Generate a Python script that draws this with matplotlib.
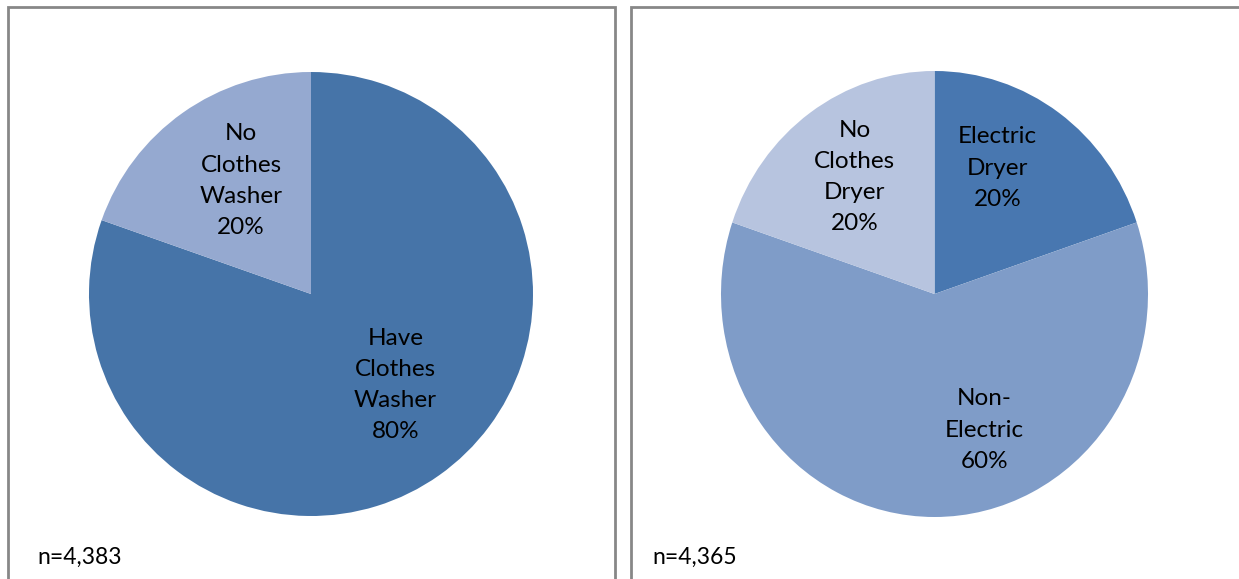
import matplotlib
matplotlib.use("Agg")
import matplotlib.pyplot as plt
from matplotlib.patches import Rectangle

# ---- data ----
washer_labels = ["Have\nClothes\nWasher", "No\nClothes\nWasher"]
washer_values = [80.4, 19.6]
washer_n = "n=4,383"

dryer_labels = ["Electric\nDryer", "Non-\nElectric", "No\nClothes\nDryer"]
dryer_values = [19.8, 60.4, 19.8]
dryer_n = "n=4,365"

# ---- style ----
washer_colors = ["#4674A8", "#95A9D0"]
dryer_colors = ["#4877B0", "#7F9CC8", "#B7C4DF"]
washer_label_pos = [(0.38, -0.41), (-0.315, 0.51)]
dryer_label_pos = [(0.296, 0.565), (0.235, -0.61), (-0.375, 0.525)]
FONT = "Lato"
W, H = 1239, 579

fig = plt.figure(figsize=(W / 100, H / 100), dpi=100)
fig.patch.set_facecolor("white")


def px_axes(x0, y0, w, h):
    return fig.add_axes([x0 / W, 1 - (y0 + h) / H, w / W, h / H])


# panel borders
for (x0, x1) in [(8, 615), (631, 1250)]:
    fig.add_artist(Rectangle((x0 / W, -0.05), (x1 - x0) / W, (H - 7) / H + 0.05,
                             transform=fig.transFigure, fill=False,
                             edgecolor="#878787", linewidth=2.0, clip_on=False))


def draw_pie(ax, values, labels, colors, lpos):
    ax.pie(values, colors=colors, startangle=90, counterclock=False,
           radius=1, wedgeprops=dict(linewidth=0))
    ax.set_xlim(-1, 1)
    ax.set_ylim(-1, 1)
    ax.set_aspect("auto")
    ax.axis("off")
    for v, lab, (x, y) in zip(values, labels, lpos):
        ax.text(x, y, f"{lab}\n{v:.0f}%", ha="center", va="center",
                fontsize=17.5, family=FONT, color="black", linespacing=1.6)


ax1 = px_axes(89, 72, 444, 444)
draw_pie(ax1, washer_values, washer_labels, washer_colors, washer_label_pos)

ax2 = px_axes(721, 71, 427, 446)
draw_pie(ax2, dryer_values, dryer_labels, dryer_colors, dryer_label_pos)

fig.text(37 / W, 1 - 557 / H, washer_n, ha="left", va="center",
         fontsize=16.5, family=FONT, color="black")
fig.text(652 / W, 1 - 557 / H, dryer_n, ha="left", va="center",
         fontsize=16.5, family=FONT, color="black")

fig.savefig("out.png", dpi=100, facecolor="white")
